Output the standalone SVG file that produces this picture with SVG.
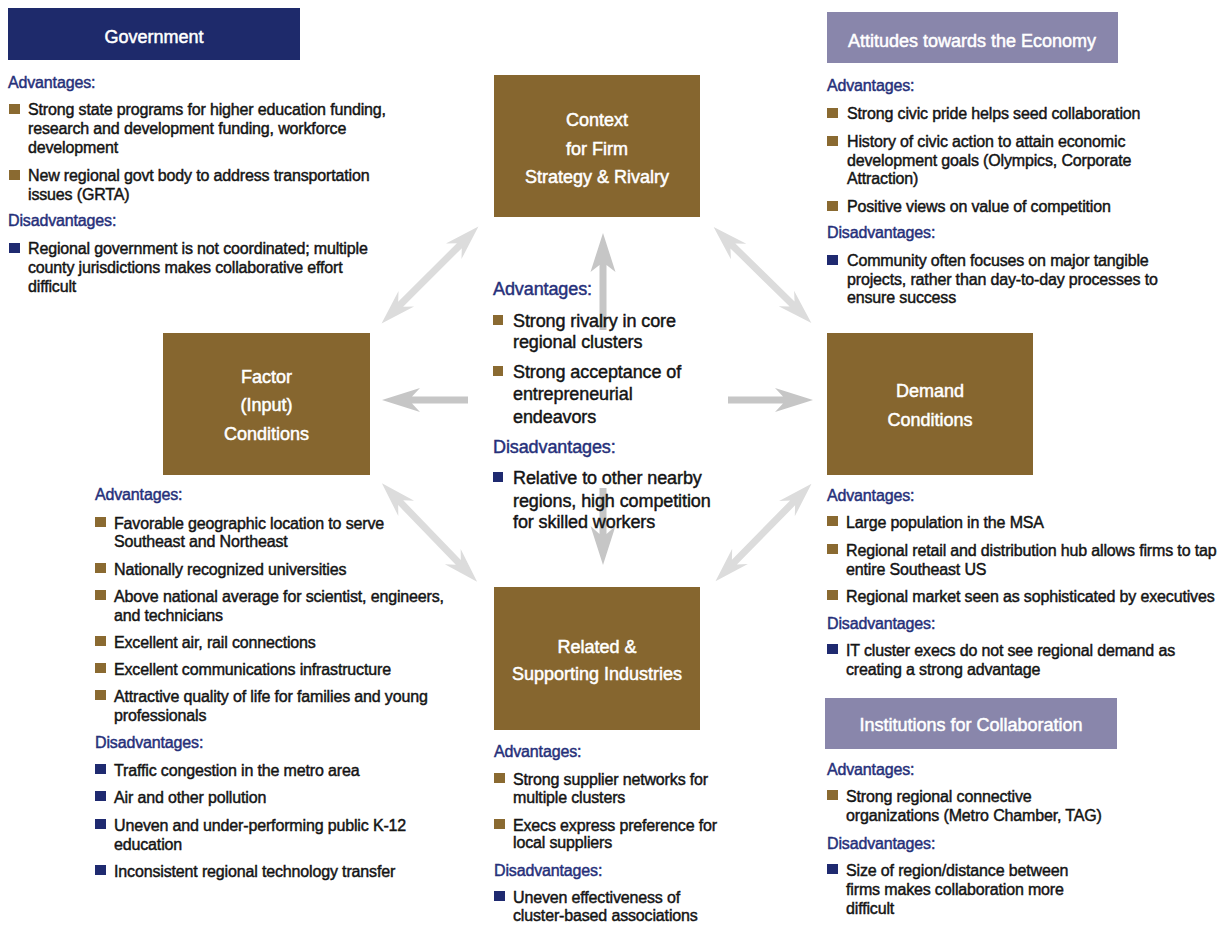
<svg xmlns="http://www.w3.org/2000/svg" xmlns:xlink="http://www.w3.org/1999/xlink" width="1229" height="925" viewBox="0 0 1229 925">
<style>
.bg{fill:#ffffff}
.brown{fill:#86662f}
.navy{fill:#1e2a6b}
.lav{fill:#8986ab}
.lbl{font-family:"Liberation Sans",Arial,sans-serif;font-size:18px;fill:#ffffff;stroke:#ffffff;stroke-width:0.5;text-anchor:middle}
.t{font-family:"Liberation Sans",Arial,sans-serif;font-size:16px;fill:#141414;stroke:#141414;stroke-width:0.45;letter-spacing:-0.15px}
.h{font-family:"Liberation Sans",Arial,sans-serif;font-size:16px;fill:#26307a;stroke:#26307a;stroke-width:0.45;letter-spacing:-0.15px}
.ct{font-size:18px;letter-spacing:-0.1px}
.bb{fill:#8a6a31}
.bn{fill:#1f2a70}
.ad{fill:#dcdcdc}
.as{fill:#c6c6c6}
</style>
<defs>
<polygon id="dbl" points="-68.5,0 -33.5,-11 -41.5,-3.5 41.5,-3.5 33.5,-11 68.5,0 33.5,11 41.5,3.5 -41.5,3.5 -33.5,11"/>
</defs>
<rect class="bg" x="0" y="0" width="1229" height="925"/>

<g id="connectors">
<use xlink:href="#dbl" class="ad" transform="translate(430,275) rotate(-45)"/>
<use xlink:href="#dbl" class="ad" transform="translate(762.5,275) rotate(44.5)"/>
<use xlink:href="#dbl" class="ad" transform="translate(429.5,532.5) rotate(46)"/>
<use xlink:href="#dbl" class="ad" transform="translate(763.5,532.5) rotate(-45.5)"/>
<polygon class="as" points="382,400 420,388 412,396.5 468,396.5 468,403.5 412,403.5 420,412"/>
<polygon class="as" points="813,400 775,388 783,396.5 728,396.5 728,403.5 783,403.5 775,412"/>
<polygon class="as" points="603,233 590.5,272 599.5,265 599.5,330 606.5,330 606.5,265 615.5,272"/>
<polygon class="as" points="603,565 590.5,526 599.5,534 599.5,488 606.5,488 606.5,534 615.5,526"/>
</g>

<g id="government">
<rect class="navy" x="8" y="8" width="292" height="52"/>
<text class="lbl" x="154" y="43">Government</text>
</g>
<g id="government-list">
<text class="h" x="8" y="88">Advantages:</text>
<rect class="bb" x="9" y="104" width="11" height="10"/>
<text class="t" x="28" y="115">Strong state programs for higher education funding,</text>
<text class="t" x="28" y="134">research and development funding, workforce</text>
<text class="t" x="28" y="153">development</text>
<rect class="bb" x="9" y="170" width="11" height="10"/>
<text class="t" x="28" y="181">New regional govt body to address transportation</text>
<text class="t" x="28" y="200">issues (GRTA)</text>
<text class="h" x="8" y="226">Disadvantages:</text>
<rect class="bn" x="9" y="243" width="11" height="10"/>
<text class="t" x="28" y="254">Regional government is not coordinated; multiple</text>
<text class="t" x="28" y="273">county jurisdictions makes collaborative effort</text>
<text class="t" x="28" y="292">difficult</text>
</g>

<g id="attitudes">
<rect class="lav" x="827" y="12" width="291" height="51"/>
<text class="lbl" x="972" y="47">Attitudes towards the Economy</text>
</g>
<g id="attitudes-list">
<text class="h" x="827" y="91">Advantages:</text>
<rect class="bb" x="827" y="108" width="11" height="10"/>
<text class="t" x="847" y="119">Strong civic pride helps seed collaboration</text>
<rect class="bb" x="827" y="136" width="11" height="10"/>
<text class="t" x="847" y="147">History of civic action to attain economic</text>
<text class="t" x="847" y="166">development goals (Olympics, Corporate</text>
<text class="t" x="847" y="184">Attraction)</text>
<rect class="bb" x="827" y="201" width="11" height="10"/>
<text class="t" x="847" y="212">Positive views on value of competition</text>
<text class="h" x="827" y="238">Disadvantages:</text>
<rect class="bn" x="827" y="255" width="11" height="10"/>
<text class="t" x="847" y="266">Community often focuses on major tangible</text>
<text class="t" x="847" y="285">projects, rather than day-to-day processes to</text>
<text class="t" x="847" y="303">ensure success</text>
</g>

<g id="context">
<rect class="brown" x="494" y="75" width="206" height="142"/>
<text class="lbl" x="597" y="126">Context</text>
<text class="lbl" x="597" y="155">for Firm</text>
<text class="lbl" x="597" y="183">Strategy &amp; Rivalry</text>
</g>
<g id="context-list">
<text class="h ct" x="493" y="295">Advantages:</text>
<rect class="bb" x="493" y="315" width="10" height="10"/>
<text class="t ct" x="513" y="327">Strong rivalry in core</text>
<text class="t ct" x="513" y="348">regional clusters</text>
<rect class="bb" x="493" y="366" width="10" height="10"/>
<text class="t ct" x="513" y="378">Strong acceptance of</text>
<text class="t ct" x="513" y="400">entrepreneurial</text>
<text class="t ct" x="513" y="423">endeavors</text>
<text class="h ct" x="493" y="453">Disadvantages:</text>
<rect class="bn" x="493" y="472" width="10" height="10"/>
<text class="t ct" x="513" y="484">Relative to other nearby</text>
<text class="t ct" x="513" y="507">regions, high competition</text>
<text class="t ct" x="513" y="528">for skilled workers</text>
</g>

<g id="factor">
<rect class="brown" x="163" y="333" width="207" height="142"/>
<text class="lbl" x="266.5" y="383">Factor</text>
<text class="lbl" x="266.5" y="411">(Input)</text>
<text class="lbl" x="266.5" y="440">Conditions</text>
</g>
<g id="factor-list">
<text class="h" x="95" y="500">Advantages:</text>
<rect class="bb" x="95" y="517" width="11" height="10"/>
<text class="t" x="114" y="529">Favorable geographic location to serve</text>
<text class="t" x="114" y="547">Southeast and Northeast</text>
<rect class="bb" x="95" y="563" width="11" height="10"/>
<text class="t" x="114" y="575">Nationally recognized universities</text>
<rect class="bb" x="95" y="590" width="11" height="10"/>
<text class="t" x="114" y="602">Above national average for scientist, engineers,</text>
<text class="t" x="114" y="621">and technicians</text>
<rect class="bb" x="95" y="636" width="11" height="10"/>
<text class="t" x="114" y="648">Excellent air, rail connections</text>
<rect class="bb" x="95" y="663" width="11" height="10"/>
<text class="t" x="114" y="675">Excellent communications infrastructure</text>
<rect class="bb" x="95" y="690" width="11" height="10"/>
<text class="t" x="114" y="702">Attractive quality of life for families and young</text>
<text class="t" x="114" y="721">professionals</text>
<text class="h" x="95" y="748">Disadvantages:</text>
<rect class="bn" x="95" y="764" width="11" height="10"/>
<text class="t" x="114" y="776">Traffic congestion in the metro area</text>
<rect class="bn" x="95" y="791" width="11" height="10"/>
<text class="t" x="114" y="803">Air and other pollution</text>
<rect class="bn" x="95" y="819" width="11" height="10"/>
<text class="t" x="114" y="831">Uneven and under-performing public K-12</text>
<text class="t" x="114" y="850">education</text>
<rect class="bn" x="95" y="865" width="11" height="10"/>
<text class="t" x="114" y="877">Inconsistent regional technology transfer</text>
</g>

<g id="demand">
<rect class="brown" x="827" y="333" width="206" height="142"/>
<text class="lbl" x="930" y="397">Demand</text>
<text class="lbl" x="930" y="426">Conditions</text>
</g>
<g id="demand-list">
<text class="h" x="827" y="501">Advantages:</text>
<rect class="bb" x="827" y="516" width="11" height="10"/>
<text class="t" x="846" y="528">Large population in the MSA</text>
<rect class="bb" x="827" y="544" width="11" height="10"/>
<text class="t" x="846" y="556">Regional retail and distribution hub allows firms to tap</text>
<text class="t" x="846" y="575">entire Southeast US</text>
<rect class="bb" x="827" y="590" width="11" height="10"/>
<text class="t" x="846" y="602">Regional market seen as sophisticated by executives</text>
<text class="h" x="827" y="629">Disadvantages:</text>
<rect class="bn" x="827" y="644" width="11" height="10"/>
<text class="t" x="846" y="656">IT cluster execs do not see regional demand as</text>
<text class="t" x="846" y="675">creating a strong advantage</text>
</g>

<g id="related">
<rect class="brown" x="494" y="587" width="206" height="143"/>
<text class="lbl" x="597" y="653">Related &amp;</text>
<text class="lbl" x="597" y="680">Supporting Industries</text>
</g>
<g id="related-list">
<text class="h" x="494" y="757">Advantages:</text>
<rect class="bb" x="494" y="773" width="11" height="10"/>
<text class="t" x="513" y="785">Strong supplier networks for</text>
<text class="t" x="513" y="803">multiple clusters</text>
<rect class="bb" x="494" y="819" width="11" height="10"/>
<text class="t" x="513" y="831">Execs express preference for</text>
<text class="t" x="513" y="848">local suppliers</text>
<text class="h" x="494" y="876">Disadvantages:</text>
<rect class="bn" x="494" y="891" width="11" height="10"/>
<text class="t" x="513" y="903">Uneven effectiveness of</text>
<text class="t" x="513" y="921">cluster-based associations</text>
</g>

<g id="institutions">
<rect class="lav" x="825" y="698" width="292" height="51"/>
<text class="lbl" x="971" y="731">Institutions for Collaboration</text>
</g>
<g id="institutions-list">
<text class="h" x="827" y="775">Advantages:</text>
<rect class="bb" x="827" y="790" width="11" height="10"/>
<text class="t" x="846" y="802">Strong regional connective</text>
<text class="t" x="846" y="821">organizations (Metro Chamber, TAG)</text>
<text class="h" x="827" y="849">Disadvantages:</text>
<rect class="bn" x="827" y="864" width="11" height="10"/>
<text class="t" x="846" y="876">Size of region/distance between</text>
<text class="t" x="846" y="895">firms makes collaboration more</text>
<text class="t" x="846" y="914">difficult</text>
</g>
</svg>
